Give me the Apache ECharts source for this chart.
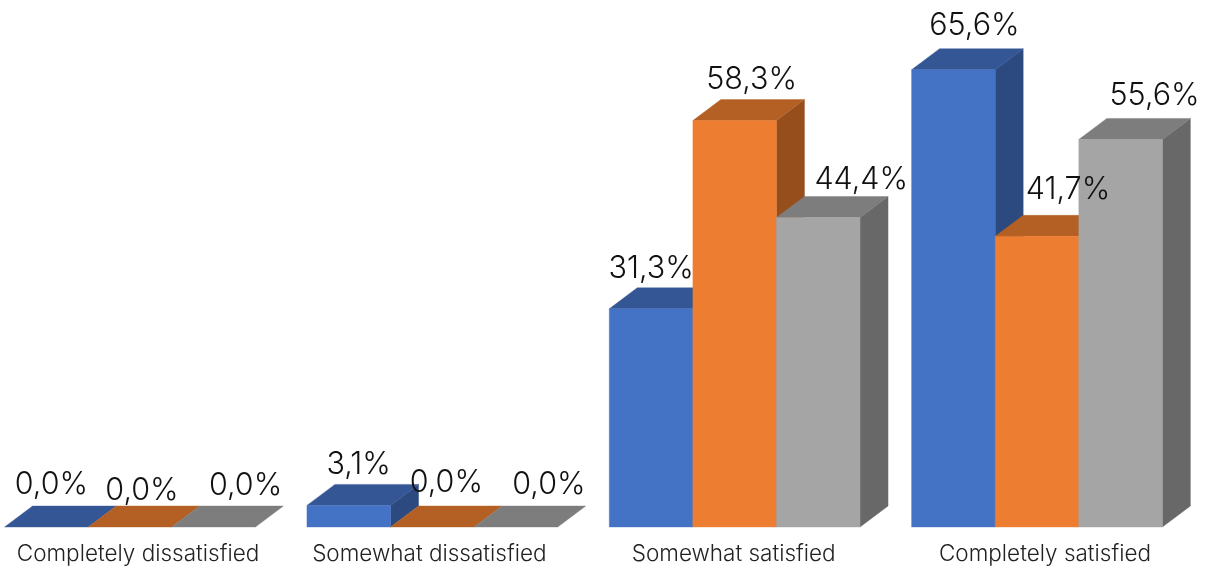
<!DOCTYPE html>
<html><head><meta charset="utf-8">
<style>html,body{margin:0;padding:0;background:#fff}#c{width:1209px;height:570px}</style>
<script src="https://cdn.jsdelivr.net/npm/echarts@6/dist/echarts.min.js"></script>
</head><body><div id="c"></div>
<script>
const categories = ['Completely dissatisfied','Somewhat dissatisfied','Somewhat satisfied','Completely satisfied'];
const seriesA = [0.0, 3.1, 31.3, 65.6];
const seriesB = [0.0, 0.0, 58.3, 41.7];
const seriesC = [0.0, 0.0, 44.4, 55.6];

// styling only: [front, top, side]
const palette = [
  ['#4472C4','#345694','#2C4980'],
  ['#ED7D31','#B45F24','#964E1C'],
  ['#A5A5A5','#7D7D7D','#686868']
];
// label nudges from each bar's top centre, per series then category: [dx, dy]
const labelNudge = [
  [[5,-42],[10,-41],[0,-40],[21,-44]],
  [[12,-36],[14,-44],[17,-41],[31,-46]],
  [[32,-41],[33,-42],[43,-38],[34,-44]]
];
const categoryLabelPad = [[16,0],[0,6],[0,2],[16,0]];
const FONT = 'Inter, "Noto Sans", sans-serif';
const BAR_SHARE = 0.2765, DEPTH_X = 28, DEPTH_Y = 21;

function barGeom(api, s){
  const cat = api.value(0), val = api.value(1);
  const base = api.coord([cat,0]), top = api.coord([cat,val]);
  const band = api.size([1,0])[0];
  const w = band*BAR_SHARE;
  const x0 = base[0] + (s-1.5)*w;
  return {x0, x1:x0+w, y0:base[1], y1:top[1], w};
}
function poly(points, fill, z2){
  return {type:'polygon', z2, shape:{points}, style:{fill, stroke:fill, lineWidth:0.4}};
}
function barSeries(values, s){
  return {
    type:'custom', coordinateSystem:'cartesian2d', z:2+s, silent:true, clip:false,
    data: values.map((v,i)=>[i,v]),
    encode:{x:0,y:1},
    renderItem(params, api){
      const g = barGeom(api,s), [f,t,d] = palette[s], c=[];
      if(g.y0-g.y1>0.5) c.push(poly([[g.x1,g.y1],[g.x1+DEPTH_X,g.y1-DEPTH_Y],[g.x1+DEPTH_X,g.y0-DEPTH_Y],[g.x1,g.y0]],d,1));
      c.push(poly([[g.x0,g.y1],[g.x0+DEPTH_X,g.y1-DEPTH_Y],[g.x1+DEPTH_X,g.y1-DEPTH_Y],[g.x1,g.y1]],t,2));
      if(g.y0-g.y1>0.5) c.push(poly([[g.x0,g.y0],[g.x0,g.y1],[g.x1,g.y1],[g.x1,g.y0]],f,3));
      return {type:'group',children:c};
    }
  };
}
function labelSeries(values, s){
  return {
    type:'custom', coordinateSystem:'cartesian2d', z:10, silent:true, clip:false,
    data: values.map((v,i)=>[i,v]),
    encode:{x:0,y:1},
    renderItem(params, api){
      const g = barGeom(api,s), n = labelNudge[s][params.dataIndex];
      return {type:'text', style:{
        x:(g.x0+g.x1)/2+n[0], y:g.y1+n[1],
        text:api.value(1).toFixed(1).replace('.',',')+'%',
        fill:'#111', font:'300 30.5px '+FONT, textAlign:'center', textVerticalAlign:'middle'
      }};
    }
  };
}
const rich = {};
categoryLabelPad.forEach((p,i)=>{
  rich['c'+i] = {padding:[0,p[1],0,p[0]],fontFamily:FONT,fontSize:22.5,fontWeight:300,color:'#222'};
});
const chart = echarts.init(document.getElementById('c'));
chart.setOption({
  animation:false, backgroundColor:'#fff',
  grid:{left:130,width:907,top:0,height:527,containLabel:false},
  xAxis:{type:'category',boundaryGap:false,data:categories,axisLine:{show:false},axisTick:{show:false},
    axisLabel:{interval:0,margin:16,hideOverlap:false,showMinLabel:true,showMaxLabel:true,rich,
      formatter:(v,i)=>'{c'+i+'|'+v+'}'}},
  yAxis:{type:'value',min:0,max:75.6,show:false,splitLine:{show:false}},
  series:[
    barSeries(seriesA,0),barSeries(seriesB,1),barSeries(seriesC,2),
    labelSeries(seriesA,0),labelSeries(seriesB,1),labelSeries(seriesC,2)
  ]
});
</script></body></html>
